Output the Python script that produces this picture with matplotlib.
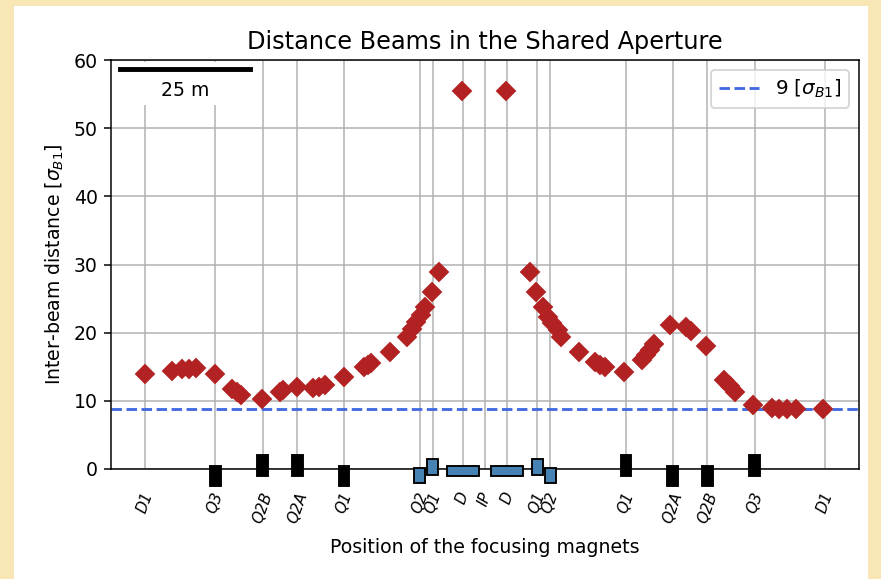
import matplotlib.pyplot as plt
from matplotlib.patches import Rectangle
from matplotlib.font_manager import FontProperties
from mpl_toolkits.axes_grid1.anchored_artists import AnchoredSizeBar

# magnet positions along the beam line [m], IP at 0
magnet_s = [-63.6, -50.5, -41.6, -35.1, -26.4, -12.2, -9.8, -4.2, 0.0,
            4.2, 9.8, 12.2, 26.4, 35.1, 41.6, 50.5, 63.6]
magnet_names = ['D1', 'Q3', 'Q2B', 'Q2A', 'Q1', 'Q2', 'Q1', 'D', 'IP',
                'D', 'Q1', 'Q2', 'Q1', 'Q2A', 'Q2B', 'Q3', 'D1']
magnet_kind = ['none', 'quad', 'quad', 'quad', 'quad', 'inner', 'inner', 'dip', 'none',
               'dip', 'inner', 'inner', 'quad', 'quad', 'quad', 'quad', 'none']
magnet_side = [0, -1, 1, 1, -1, -1, 1, 0, 0, 0, 1, -1, 1, -1, -1, 1, 0]

# inter-beam distance in units of sigma_B1
s_pts = [-63.6, -58.5, -56.7, -55.4, -54.1, -50.6, -47.4, -46.5, -45.6, -41.7,
         -38.4, -37.9, -35.1, -32.1, -31.1, -29.9, -26.4, -22.6, -21.9, -21.3,
         -17.7, -14.6, -13.7, -12.9, -12.0, -11.2, -9.9, -8.7, -4.3,
         4.0, 8.4, 9.6, 10.9, 11.8, 12.6, 13.7, 14.3, 17.5, 20.5,
         21.6, 22.4, 26.1, 29.4, 30.2, 30.8, 31.6, 34.7, 37.6, 38.5,
         41.4, 44.8, 45.9, 46.8, 50.2, 53.8, 55.0, 56.6, 58.3, 63.2]
d_pts = [13.9, 14.4, 14.6, 14.7, 14.8, 14.0, 11.7, 11.3, 10.9, 10.3,
         11.3, 11.6, 12.0, 11.9, 12.1, 12.3, 13.5, 14.9, 15.2, 15.5,
         17.2, 19.4, 20.6, 21.6, 22.6, 23.7, 25.9, 28.9, 55.4,
         55.4, 28.9, 25.9, 23.8, 22.3, 21.4, 20.4, 19.3, 17.1, 15.7,
         15.3, 14.9, 14.3, 16.0, 16.7, 17.5, 18.3, 21.1, 20.8, 20.3,
         18.0, 13.1, 12.2, 11.3, 9.4, 8.9, 8.8, 8.8, 8.8, 8.8]
threshold = 8.8

W, H, DPI = 881, 579, 136
fig = plt.figure(figsize=(W / DPI, H / DPI), dpi=DPI)
fig.patch.set_facecolor('#f8e6b4')
fig.patches.append(Rectangle((14 / W, 0), (868 - 14) / W, (H - 6) / H,
                             transform=fig.transFigure, facecolor='white',
                             edgecolor='none', zorder=-10))
ax = fig.add_axes([111 / W, 1 - 469 / H, (859 - 111) / W, (469 - 60) / H])

ax.axhline(threshold, ls='--', color='royalblue', label=r'9 [$\sigma_{B1}$]')
ax.plot(s_pts, d_pts, 'D', color='firebrick', ms=7, ls='none')

# magnets drawn as boxes around the axis line
box = {
    'quad': dict(w=2.0, up=(-1.0, 2.0), down=(-2.5, 0.5), fc='black'),
    'inner': dict(w=2.0, up=(-0.9, 1.4), down=(-2.1, 0.2), fc='steelblue'),
    'dip': dict(w=6.0, up=(-1.05, 0.4), down=(-1.05, 0.4), fc='steelblue'),
}
for s, k, side in zip(magnet_s, magnet_kind, magnet_side):
    if k == 'none':
        continue
    b = box[k]
    y0, y1 = b['up'] if side >= 0 else b['down']
    ax.add_patch(Rectangle((s - b['w'] / 2, y0), b['w'], y1 - y0,
                           facecolor=b['fc'], edgecolor='black', lw=1,
                           clip_on=False, zorder=3))

ax.set_xlim(-70, 70)
ax.set_ylim(0, 60)
ax.set_xticks(magnet_s, magnet_names, rotation=70, fontstyle='italic', fontsize=8)
ax.tick_params(axis='x', length=0, pad=11)
ax.grid(True)
ax.set_axisbelow(True)

sb = AnchoredSizeBar(ax.transData, 25, '25 m', loc='upper left', pad=0.3,
                     borderpad=0.1, sep=5, frameon=True, size_vertical=0.55,
                     color='black', fontproperties=FontProperties(size=10))
sb.patch.set_edgecolor('none')
ax.add_artist(sb)

ax.legend(loc='upper right', fontsize=10.5)
ax.set_title('Distance Beams in the Shared Aperture', fontsize=12.7)
ax.set_xlabel('Position of the focusing magnets', labelpad=7)
ax.set_ylabel(r'Inter-beam distance [$\sigma_{B1}$]')

fig.savefig('out.png', dpi=DPI, facecolor=fig.get_facecolor())
